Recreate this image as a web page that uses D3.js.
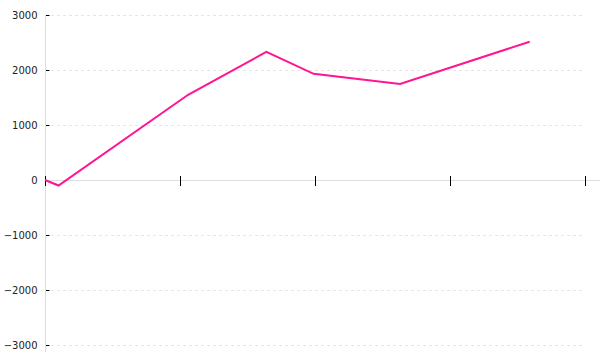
<!DOCTYPE html>
<html>
<head>
<meta charset="utf-8">
<script src="https://cdn.jsdelivr.net/npm/d3@7"></script>
<style>
  body { margin: 0; background: #fff; }
  text { font-family: "DejaVu Sans", sans-serif; font-size: 10px; fill: #222; }
</style>
</head>
<body>
<svg width="600" height="360"></svg>
<script>
// series
var xValues = [0, 0.1, 1.06, 1.64, 1.99, 2.63, 3.59];
var yValues = [0, -100, 1550, 2330, 1930, 1745, 2515];
var yTicks = [-3000, -2000, -1000, 0, 1000, 2000, 3000];
var xTicks = [0, 1, 2, 3, 4];

var svg = d3.select("svg");
var mLeft = 45, mRight = 585, mTop = 15, mBottom = 345;

var x = d3.scaleLinear().domain([0, 4]).range([mLeft, mRight]);
var y = d3.scaleLinear().domain([-3000, 3000]).range([mBottom, mTop]);

// grid
svg.append("g").selectAll("line")
    .data(yTicks.filter(function (d) { return d !== 0; }))
    .enter().append("line")
    .attr("x1", mLeft).attr("x2", mRight)
    .attr("y1", function (d) { return y(d) + 0.5; })
    .attr("y2", function (d) { return y(d) + 0.5; })
    .attr("stroke", "#e6e6e6")
    .attr("stroke-dasharray", "3,3");

// y axis
var yAxis = svg.append("g")
    .attr("transform", "translate(" + (mLeft + 0.5) + ",0)")
    .call(d3.axisLeft(y).tickValues(yTicks).tickSize(6).tickPadding(2).tickFormat(d3.format("d")));
yAxis.select(".domain").remove();
yAxis.selectAll(".tick line").attr("x2", 4).attr("stroke", "#000");
yAxis.selectAll("text").style("font-family", "DejaVu Sans").style("font-size", "10px").attr("fill", "#222");
svg.append("line")
    .attr("x1", mLeft + 0.5).attr("x2", mLeft + 0.5)
    .attr("y1", mTop).attr("y2", 352)
    .attr("stroke", "#ddd");

// x axis
svg.append("line")
    .attr("x1", mLeft).attr("x2", mRight + 15)
    .attr("y1", y(0) + 0.5).attr("y2", y(0) + 0.5)
    .attr("stroke", "#ddd");
var xAxis = svg.append("g")
    .attr("transform", "translate(0," + (y(0) - 4) + ")")
    .call(d3.axisBottom(x).tickValues(xTicks).tickSize(10).tickFormat(""));
xAxis.select(".domain").remove();
xAxis.selectAll(".tick line").attr("stroke", "#000");

// line
var line = d3.line()
    .x(function (d, i) { return x(xValues[i]); })
    .y(function (d) { return y(d); });

svg.append("path")
    .datum(yValues)
    .attr("d", line)
    .attr("fill", "none")
    .attr("stroke", "#ff1493")
    .attr("stroke-width", 2);
</script>
</body>
</html>
